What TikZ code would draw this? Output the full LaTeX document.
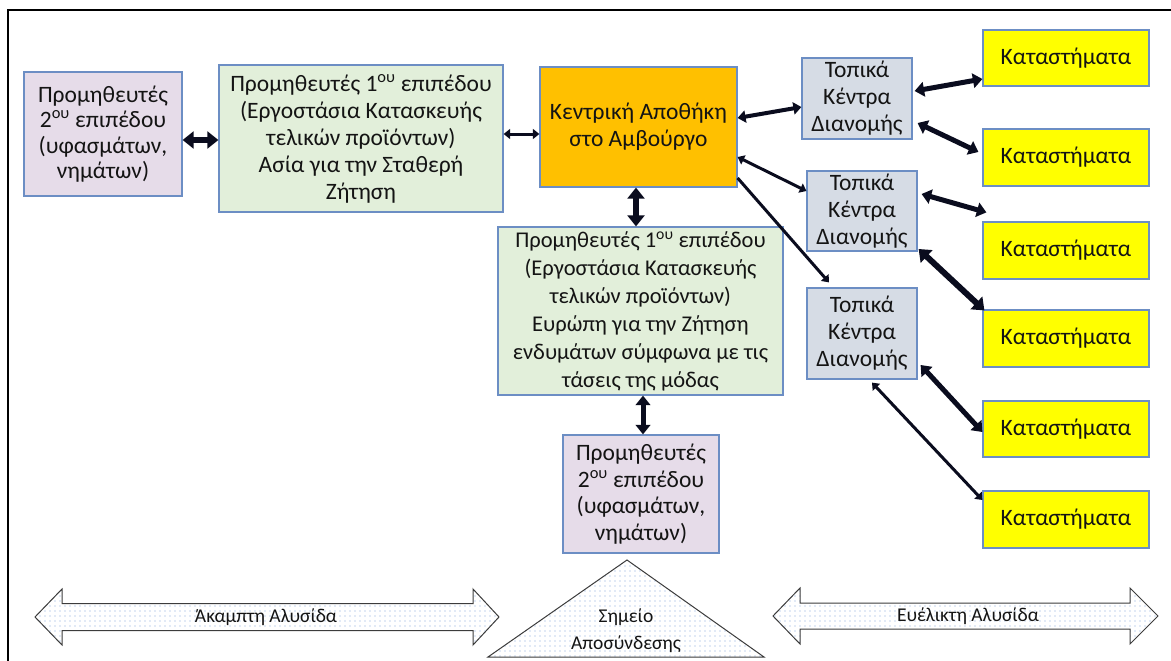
\documentclass[tikz,border=0pt]{standalone}
\usepackage{fontspec}
\setmainfont{Carlito}
\usetikzlibrary{arrows.meta,patterns.meta}

\definecolor{edge}{RGB}{108,142,196}
\definecolor{pinkfill}{RGB}{230,220,233}
\definecolor{greenfill}{RGB}{226,239,218}
\definecolor{orangefill}{RGB}{255,192,0}
\definecolor{greyfill}{RGB}{214,220,229}
\definecolor{yellowfill}{RGB}{255,255,0}
\definecolor{ink}{RGB}{20,20,20}
\definecolor{arrowink}{RGB}{10,12,30}
\definecolor{dotblue}{RGB}{130,165,220}
\definecolor{outline}{RGB}{60,60,60}

\newcommand{\ou}{\textsuperscript{ου}}

\begin{document}
\begin{tikzpicture}[x=1pt,y=-1pt,
  box/.style 2 args={draw=edge, line width=1.2pt, align=center, inner sep=0pt,
    text=ink, minimum width=#1pt, minimum height=#2pt,
    font=\fontsize{23.5}{27}\selectfont},
  supplier/.style={fill=pinkfill},
  factory/.style={fill=greenfill},
  hub/.style={fill=orangefill},
  centre/.style={fill=greyfill},
  store/.style={fill=yellowfill},
  link/.style={draw=arrowink, line width=#1pt,
    {Triangle[length=2pt 1.5, width=3pt 2.3]}-{Triangle[length=2pt 1.5, width=3pt 2.3]}},
  onelink/.style={draw=arrowink, line width=#1pt,
    -{Triangle[length=2pt 1.5, width=3pt 2.3]}},
  band/.style={preaction={fill=white}, pattern={Dots[distance=5pt,radius=0.6pt]},
    pattern color=dotblue, draw=outline, line width=1pt, line join=miter},
  bandtext/.style={text=ink, font=\fontsize{19.5}{27}\selectfont, align=center, inner sep=0pt}
]
\useasboundingbox (0,0) rectangle (1171,661);

% frame
\draw[line width=2pt] (8,661) -- (8,10) -- (1171,10);

% upstream suppliers and factories
\node[box={158}{124}, supplier, font=\fontsize{23.5}{25.5}\selectfont] (supL) at (103,134)
  {Προμηθευτές\\2\ou{} επιπέδου\\(υφασμάτων,\\νημάτων)};
\node[box={284}{147}, factory] (asia) at (361,138.5)
  {Προμηθευτές 1\ou{} επιπέδου\\(Εργοστάσια Κατασκευής\\τελικών προϊόντων)\\Ασία για την Σταθερή\\Ζήτηση};
\node[box={197}{120}, hub] (hub) at (638.5,127)
  {Κεντρική Αποθήκη\\στο Αμβούργο};
\node[box={285}{168}, factory, font=\fontsize{22.5}{28}\selectfont] (europe) at (640.5,311)
  {Προμηθευτές 1\ou{} επιπέδου\\(Εργοστάσια Κατασκευής\\τελικών προϊόντων)\\Ευρώπη για την Ζήτηση\\ενδυμάτων σύμφωνα με τις\\τάσεις της μόδας};
\node[box={156}{118}, supplier, font=\fontsize{23.5}{26.5}\selectfont] (supB) at (641,494)
  {Προμηθευτές\\2\ou{} επιπέδου\\(υφασμάτων,\\νημάτων)};

% local distribution centres
\node[box={110}{81}, centre] (dc1) at (857,98.5) {Τοπικά\\Κέντρα\\Διανομής};
\node[box={110}{80}, centre] (dc2) at (862,211) {Τοπικά\\Κέντρα\\Διανομής};
\node[box={110}{91}, centre] (dc3) at (862,333.5) {Τοπικά\\Κέντρα\\Διανομής};

% stores
\node[box={166}{56}, store] (s1) at (1066,58) {Καταστήματα};
\node[box={166}{57}, store] (s2) at (1066,157.5) {Καταστήματα};
\node[box={166}{57}, store] (s3) at (1066,250.5) {Καταστήματα};
\node[box={166}{57}, store] (s4) at (1066,338.5) {Καταστήματα};
\node[box={166}{56}, store] (s5) at (1066,429) {Καταστήματα};
\node[box={166}{57}, store] (s6) at (1066,519.5) {Καταστήματα};

% connectors along the upstream chain
\coordinate (a1) at ([yshift=-6pt]supL.east);
\draw[link=6] (a1) -- (a1 -| asia.west);
\coordinate (a2) at ([yshift=4.5pt]asia.east);
\draw[link=3] (a2) -- (a2 -| hub.west);
\coordinate (a3) at ([xshift=-2.5pt]hub.south);
\draw[link=6] (a3) -- (a3 |- europe.north);
\coordinate (a4) at ([xshift=2.5pt]europe.south);
\draw[link=5] (a4) -- (a4 |- supB.north);

% hub to distribution centres
\draw[link=4] ([yshift=9pt]hub.east) -- ([yshift=-8.5pt]dc1.west);
\draw[link=3] ([yshift=-30pt]hub.east) -- ([yshift=20pt]dc2.west);
\draw[onelink=3] ([yshift=-51pt]hub.east) -- ([xshift=-33pt,yshift=5pt]dc3.north);

% distribution centres to stores
\draw[link=5] ([xshift=2pt,yshift=7.5pt]dc1.east) -- ([yshift=-21pt]s1.west);
\draw[link=5] ([xshift=5pt,yshift=-24.5pt]dc1.east) -- ([xshift=-4pt,yshift=5.5pt]s2.west);
\draw[link=5] ([xshift=4pt,yshift=17pt]dc2.east) -- ([xshift=4pt,yshift=9pt]s3.north west);
\draw[link=6] ([xshift=1pt,yshift=-38pt]dc2.east) -- ([xshift=2pt,yshift=-1pt]s4.north west);
\draw[link=5] ([xshift=3pt,yshift=-31.5pt]dc3.east) -- ([yshift=-3pt]s5.west);
\draw[link=3] ([xshift=10pt,yshift=-3pt]dc3.south) -- ([yshift=19.5pt]s6.west);

% rigid chain band
\path[band] (35,617) -- (62,589) -- (62,603.5) -- (473,603.5) -- (473,589)
  -- (499,617) -- (473,645) -- (473,630.5) -- (62,630.5) -- (62,645) -- cycle;
\node[bandtext] (rigid) at (266,617) {Άκαμπτη Αλυσίδα};

% decoupling point
\path[band] (488,657) -- (627,560) -- (764,657) -- cycle;
\node[bandtext] (decouple) at (626,631) {Σημείο\\Αποσύνδεσης};

% agile chain band
\path[band] (773,616) -- (800,588) -- (800,603) -- (1130,603) -- (1130,588)
  -- (1158,616) -- (1130,644) -- (1130,629) -- (800,629) -- (800,644) -- cycle;
\node[bandtext] (agile) at (968,616) {Ευέλικτη Αλυσίδα};
\end{tikzpicture}
\end{document}
